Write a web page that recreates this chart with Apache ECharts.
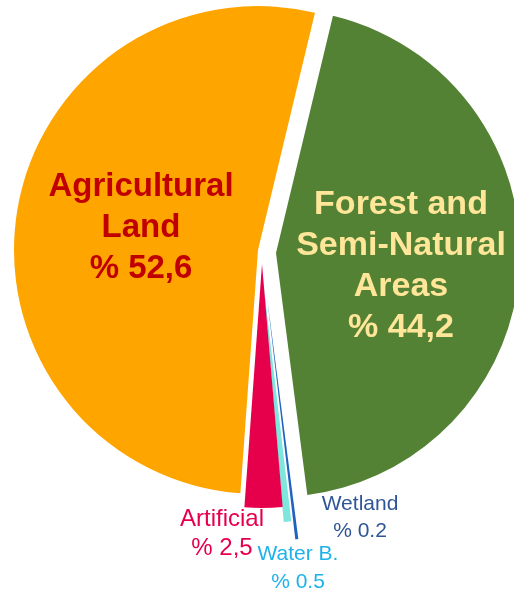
<!DOCTYPE html>
<html>
<head>
<meta charset="utf-8">
<script src="https://cdn.jsdelivr.net/npm/echarts@6/dist/echarts.min.js"></script>
<style>
  html, body { margin: 0; padding: 0; background: #ffffff; }
  #chart { width: 514px; height: 595px; }
</style>
</head>
<body>
<div id="chart"></div>
<script>
// Land cover shares (%), clockwise from the top
const categories = ['Forest and\nSemi-Natural\nAreas', 'Wetland', 'Water B.', 'Artificial', 'Agricultural\nLand'];
const values = [44.2, 0.2, 0.5, 2.5, 52.6];
// decimal separator used in each printed share
const decimalMarks = [',', '.', '.', ',', ','];

// slice colours
const sliceColors = ['#548235', '#1F63BE', '#7FE6DE', '#E6004C', '#FFA500'];
// label text colours and sizes
const labelColors = ['#FFE699', '#2F5597', '#1FB2EA', '#E6004C', '#C00000'];
const labelFonts = [
  { size: 34, weight: 'bold', lh: 41 },
  { size: 21, weight: 'normal', lh: 27 },
  { size: 21, weight: 'normal', lh: 28 },
  { size: 24, weight: 'normal', lh: 29 },
  { size: 33, weight: 'bold', lh: 41 }
];
// each slice is pulled out of the pie by its own amount
const sliceCenters = [[276, 253], [267, 297], [263, 279], [262, 264], [258, 250]];
const labelAnchors = [[401, 266], [360, 518], [298, 568], [222, 534], [141, 228]];
const radius = 244;

function shareText(i) {
  return '% ' + String(values[i]).replace('.', decimalMarks[i]);
}

const series = values.map(function (_, i) {
  return {
    type: 'pie',
    radius: radius,
    center: sliceCenters[i],
    startAngle: 76.5,
    clockwise: true,
    silent: true,
    animation: false,
    avoidLabelOverlap: false,
    z: 2 + i,
    itemStyle: { borderWidth: 0 },
    emphasis: { disabled: true },
    labelLine: { show: false },
    label: {
      position: 'inside',
      color: labelColors[i],
      fontFamily: '"Liberation Sans", Arial, sans-serif',
      fontSize: labelFonts[i].size,
      fontWeight: labelFonts[i].weight,
      lineHeight: labelFonts[i].lh,
      align: 'center',
      formatter: function (p) { return p.name + '\n' + shareText(p.dataIndex); }
    },
    labelLayout: function (p) {
      if (p.dataIndex !== i) return {};
      return { x: labelAnchors[i][0], y: labelAnchors[i][1], align: 'center', verticalAlign: 'middle' };
    },
    data: values.map(function (v, j) {
      return {
        name: categories[j],
        value: v,
        itemStyle: { color: j === i ? sliceColors[j] : 'rgba(0,0,0,0)' },
        label: { show: j === i }
      };
    })
  };
});

const chart = echarts.init(document.getElementById('chart'), null, { renderer: 'canvas' });
chart.setOption({
  backgroundColor: '#ffffff',
  animation: false,
  series: series
});
</script>
</body>
</html>
